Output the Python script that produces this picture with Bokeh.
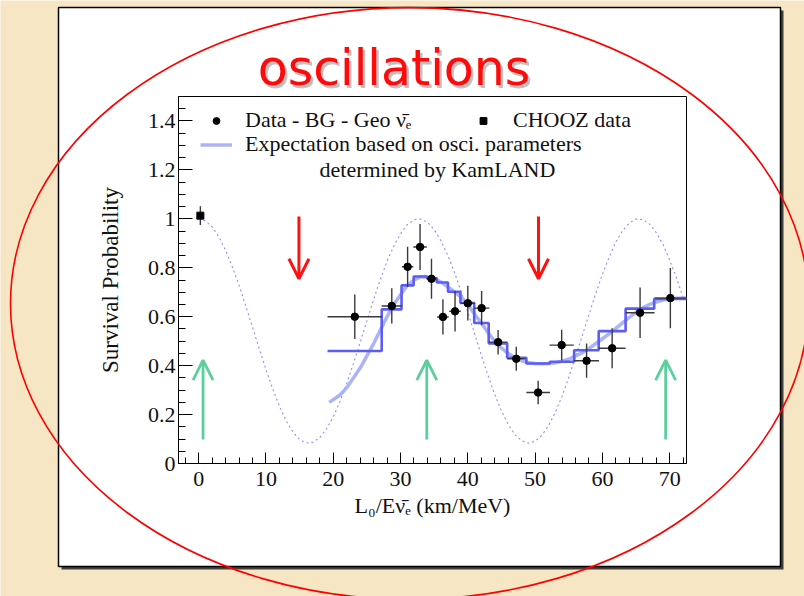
import numpy as np
from bokeh.plotting import figure
from bokeh.models import (Range1d, SingleIntervalTicker, CustomJSTickFormatter, Label, Legend,
                          LegendItem, Arrow, OpenHead, ColumnDataSource, GridBox)
from bokeh.core.properties import value
from bokeh.embed import file_html
from bokeh.resources import INLINE

# ---------------- data ----------------
data_x = [23.2, 28.7, 31.05, 32.9, 34.6, 36.3, 38.1, 40.0, 42.05, 44.5, 47.2, 50.45, 53.95, 57.65, 61.45, 65.6, 70.1]
data_xerr = [4.05, 1.5, 0.85, 1.0, 0.75, 0.85, 0.85, 1.05, 1.15, 1.4, 1.35, 1.75, 1.8, 1.85, 2.0, 2.15, 2.3]
data_y = [0.600, 0.644, 0.804, 0.885, 0.755, 0.599, 0.622, 0.655, 0.635, 0.496, 0.428, 0.290, 0.484, 0.420, 0.471, 0.616, 0.676]
data_yerr = [0.091, 0.072, 0.082, 0.094, 0.082, 0.072, 0.082, 0.071, 0.070, 0.050, 0.049, 0.048, 0.063, 0.070, 0.082, 0.103, 0.123]

chooz_x = [0.25]
chooz_y = [1.013]
chooz_yerr = [0.038]

hist_edges = [19.15, 27.2, 30.15, 31.95, 33.95, 35.4, 37.05, 38.9, 40.95, 43.1, 45.85, 48.7, 52.2, 55.8, 59.45, 63.45, 67.7, 72.5]
hist_levels = [0.460, 0.630, 0.728, 0.764, 0.757, 0.740, 0.702, 0.656, 0.574, 0.491, 0.432, 0.409, 0.416, 0.463, 0.541, 0.633, 0.673]

smooth_x = [19.4, 21, 22, 23, 24, 25, 26, 27, 28, 29, 30, 31, 32, 33, 34, 35, 36, 37, 38, 39, 40, 41, 42, 43, 44, 45,
            46, 47, 48, 49, 50, 51, 52, 53, 54, 55, 56, 57, 58, 59, 60, 61, 62, 63, 64, 65, 66, 67, 68, 69, 70, 71, 72.5]
smooth_y = [0.25, 0.28, 0.31, 0.35, 0.39, 0.44, 0.49, 0.545, 0.60, 0.65, 0.69, 0.728, 0.75, 0.763, 0.762, 0.754, 0.742,
            0.722, 0.702, 0.68, 0.652, 0.61, 0.574, 0.535, 0.50, 0.472, 0.45, 0.432, 0.42, 0.413, 0.409, 0.408, 0.409,
            0.412, 0.418, 0.426, 0.44, 0.452, 0.47, 0.49, 0.51, 0.53, 0.552, 0.575, 0.597, 0.618, 0.636, 0.65, 0.66,
            0.668, 0.672, 0.675, 0.676]

dotted_x = list(range(73))
dotted_y = [1.000, 0.992, 0.967, 0.926, 0.871, 0.804, 0.728, 0.644, 0.557, 0.469,
            0.384, 0.305, 0.234, 0.175, 0.129, 0.098, 0.084, 0.087, 0.106, 0.141,
            0.191, 0.254, 0.327, 0.409, 0.495, 0.583, 0.671, 0.752, 0.827, 0.889,
            0.939, 0.976, 0.996, 0.999, 0.986, 0.956, 0.911, 0.852, 0.782, 0.703,
            0.618, 0.531, 0.443, 0.360, 0.282, 0.215, 0.160, 0.118, 0.093, 0.083,
            0.091, 0.115, 0.155, 0.209, 0.275, 0.352, 0.435, 0.522, 0.609, 0.694,
            0.773, 0.843, 0.905, 0.952, 0.983, 0.999, 0.997, 0.979, 0.944, 0.895,
            0.832, 0.760, 0.678]

red_arrow_x = [14.9, 50.5]
red_arrow_top = [1.01, 1.01]
red_arrow_tip = [0.755, 0.755]
green_arrow_x = [0.65, 33.9, 69.4]
green_arrow_bottom = [0.098, 0.098, 0.098]
green_arrow_tip = [0.423, 0.423, 0.423]

title_text = "oscillations"
x_title = "L\u2080/E\u03bd\u0304\u2091 (km/MeV)"
y_title = "Survival Probability"
leg_data = "Data - BG - Geo \u03bd\u0304\u2091"
leg_chooz = "CHOOZ data"
leg_exp1 = "Expectation based on osci. parameters"
leg_exp2 = "determined by KamLAND"

# ---------------- page decoration (slide) ----------------
BG = "#f7e6c4"
SERIF = "Liberation Serif"
W, H = 804, 596

panel_box = dict(left=58, right=780, top=7, bottom=566)
title_pos = (393.5, 68)
ellipse_geom = dict(x=409, y=303, w=798, h=592)

bg = figure(width=W, height=H, x_range=Range1d(0, W), y_range=Range1d(H, 0), min_border=0,
            x_axis_location=None, y_axis_location=None, output_backend="svg", toolbar_location=None,
            background_fill_color=BG, border_fill_color=BG, outline_line_color=None)
bg.frame_align = False
bg.grid.visible = False
bg.quad(left=[panel_box["left"] + 3], right=[panel_box["right"] + 3], top=[panel_box["top"] + 3],
        bottom=[panel_box["bottom"] + 3], fill_color="#222222", fill_alpha=0.85, line_alpha=0)
bg.quad(left=[panel_box["left"]], right=[panel_box["right"]], top=[panel_box["top"]],
        bottom=[panel_box["bottom"]], fill_color="white", line_color="black", line_width=1.5)
bg.text(x=[title_pos[0] + 2.5], y=[title_pos[1] + 2.5], text=[title_text], text_font=value("DejaVu Sans"),
        text_font_size="49px", text_color="#666666", text_alpha=0.4, text_align="center",
        text_baseline="alphabetic")
bg.text(x=[title_pos[0]], y=[title_pos[1]], text=[title_text], text_font=value("DejaVu Sans"),
        text_font_size="49px", text_color="#ff0a0a", text_align="center", text_baseline="alphabetic")
bg.ellipse(x=[ellipse_geom["x"]], y=[ellipse_geom["y"]], width=ellipse_geom["w"], height=ellipse_geom["h"],
           fill_alpha=0, line_color="#ff0000", line_width=1.6)

# ---------------- the chart ----------------
p = figure(frame_width=508, frame_height=367,
           min_border_left=178, min_border_right=118, min_border_top=96, min_border_bottom=133,
           x_range=Range1d(-3, 72.5), y_range=Range1d(0, 1.5),
           output_backend="svg", toolbar_location=None,
           background_fill_color="white", border_fill_alpha=0,
           outline_line_color="black", outline_line_width=1)
p.frame_align = False
p.grid.visible = False

p.xaxis.ticker = SingleIntervalTicker(interval=10, num_minor_ticks=5)
p.yaxis.ticker = SingleIntervalTicker(interval=0.2, num_minor_ticks=4)
p.yaxis.formatter = CustomJSTickFormatter(code="return String(Math.round(tick*10)/10)")
for ax in (p.xaxis[0], p.yaxis[0]):
    ax.major_tick_out = 0
    ax.minor_tick_out = 0
    ax.axis_line_color = "black"
    ax.major_tick_line_color = "black"
    ax.minor_tick_line_color = "black"
    ax.major_label_text_font = SERIF
    ax.major_label_text_font_size = "22px"
    ax.major_label_text_color = "#111111"
    ax.axis_label_text_font = SERIF
    ax.axis_label_text_font_style = "normal"
    ax.axis_label_text_color = "#111111"
p.xaxis.major_tick_in = 11
p.xaxis.minor_tick_in = 6
p.xaxis.major_label_standoff = 8
p.xaxis.axis_label = x_title
p.xaxis.axis_label_text_font_size = "22px"
p.xaxis.axis_label_standoff = 4
p.yaxis.major_tick_in = 14
p.yaxis.minor_tick_in = 7
p.yaxis.major_label_standoff = 3
p.yaxis.axis_label = y_title
p.yaxis.axis_label_text_font_size = "23px"
p.yaxis.axis_label_standoff = 22

# curves
p.line(dotted_x, dotted_y, line_color="#8c8cff", line_width=1.1, line_dash="2 3")
r_smooth = p.line(smooth_x, smooth_y, line_color="#a3acf7", line_width=3.5, line_alpha=0.9)
p.step(hist_edges, hist_levels + [hist_levels[-1]], mode="after", line_color="#5c5cf6", line_width=2.6)

# data points with errors
dx = np.array(data_x); dy = np.array(data_y)
src = ColumnDataSource(dict(x=dx, y=dy,
                            xlo=dx - np.array(data_xerr), xhi=dx + np.array(data_xerr),
                            ylo=dy - np.array(data_yerr), yhi=dy + np.array(data_yerr)))
p.segment(x0="xlo", x1="xhi", y0="y", y1="y", source=src, line_color="#3a3a3a", line_width=1.4)
p.segment(x0="x", x1="x", y0="ylo", y1="yhi", source=src, line_color="#3a3a3a", line_width=1.4)
r_data = p.scatter("x", "y", source=src, marker="circle", size=7.5, color="black")

cx = np.array(chooz_x); cy = np.array(chooz_y)
p.segment(x0=cx, x1=cx, y0=cy - np.array(chooz_yerr), y1=cy + np.array(chooz_yerr),
          line_color="#3a3a3a", line_width=1.4)
r_chooz = p.scatter(chooz_x, chooz_y, marker="square", size=7, color="black")

# arrows
red_src = ColumnDataSource(dict(x=red_arrow_x, y0=red_arrow_top, y1=red_arrow_tip))
p.add_layout(Arrow(source=red_src, x_start="x", y_start="y0", x_end="x", y_end="y1",
                   line_color="#ff1111", line_width=3,
                   end=OpenHead(size=20, line_color="#ff1111", line_width=3)))
green_src = ColumnDataSource(dict(x=green_arrow_x, y0=green_arrow_bottom, y1=green_arrow_tip))
p.add_layout(Arrow(source=green_src, x_start="x", y_start="y0", x_end="x", y_end="y1",
                   line_color="#5ccf9c", line_width=2.8,
                   end=OpenHead(size=20, line_color="#5ccf9c", line_width=2.8)))

# legends
def style_leg(l):
    l.background_fill_alpha = 0
    l.border_line_alpha = 0
    l.padding = 0
    l.margin = 0
    l.spacing = 0
    l.glyph_width = 32
    l.glyph_height = 17
    l.label_height = 17
    l.label_text_font = SERIF
    l.label_text_font_size = "22px"
    l.label_text_color = "#111111"
    l.label_text_baseline = "middle"

leg1 = Legend(items=[LegendItem(label=leg_data, renderers=[r_data])], location=(22, 330), label_standoff=13)
leg2 = Legend(items=[LegendItem(label=leg_chooz, renderers=[r_chooz])], location=(289, 330), label_standoff=14)
leg3 = Legend(items=[LegendItem(label=leg_exp1, renderers=[r_smooth])], location=(22, 306), label_standoff=13)
for l in (leg1, leg2, leg3):
    style_leg(l)
    p.add_layout(l)

p.add_layout(Label(x=319, y=169, x_units="canvas", y_units="canvas", text=leg_exp2,
                   text_font=SERIF, text_font_size="22px", text_color="#111111",
                   text_align="left", text_baseline="alphabetic"))

layout = GridBox(children=[(bg, 0, 0), (p, 0, 0)])

open("out.html", "w").write(file_html(layout, INLINE))
